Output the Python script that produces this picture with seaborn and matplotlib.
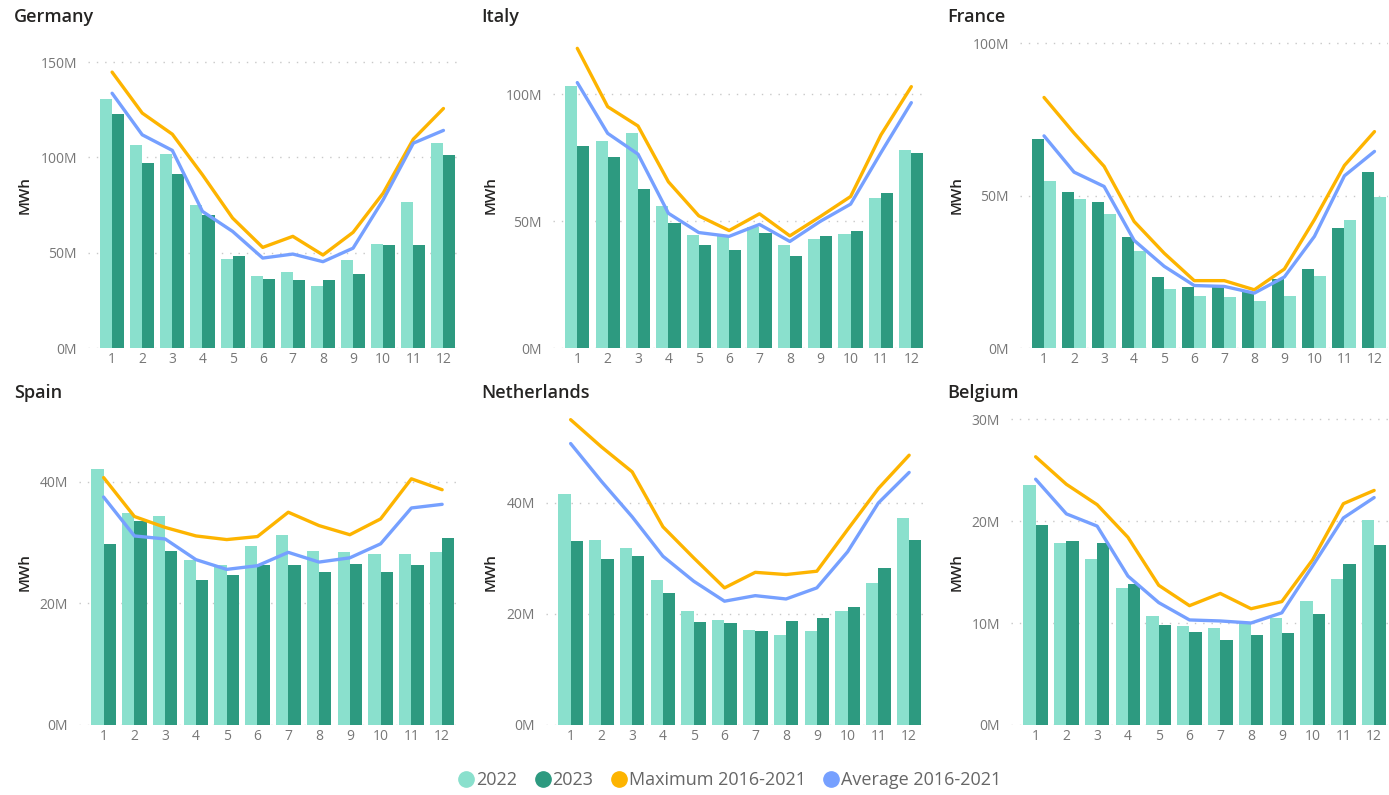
import pandas as pd
import seaborn as sns
import matplotlib.pyplot as plt
import numpy as np
from matplotlib.lines import Line2D

months = list(range(1, 13))

germany_2022 = [130.8, 106.8, 101.9, 75.2, 46.7, 37.6, 39.7, 32.3, 46.0, 54.4, 76.7, 107.5]
germany_2023 = [122.6, 97.0, 91.3, 69.9, 48.1, 36.2, 35.8, 35.8, 39.0, 54.2, 54.2, 101.4]
germany_max = [144.8, 123.3, 112.2, 90.9, 68.2, 52.8, 58.6, 48.8, 60.7, 81.3, 109.6, 125.7]
germany_avg = [133.7, 111.9, 103.7, 71.7, 61.2, 47.2, 49.3, 45.3, 52.4, 77.8, 107.5, 114.2]

italy_2022 = [103.1, 81.4, 84.6, 56.0, 44.6, 44.0, 47.5, 40.4, 42.9, 45.0, 59.3, 78.2]
italy_2023 = [79.8, 75.1, 62.5, 49.1, 40.6, 38.7, 45.4, 36.4, 44.1, 46.1, 61.0, 76.8]
italy_max = [118.1, 95.1, 87.5, 65.5, 52.1, 46.3, 52.9, 44.2, 51.8, 59.7, 84.0, 103.0]
italy_avg = [104.6, 84.6, 76.4, 53.1, 45.5, 44.0, 48.7, 42.0, 49.9, 56.7, 77.0, 96.7]

france_2022 = [54.9, 48.9, 43.9, 31.9, 19.2, 17.2, 16.7, 15.5, 17.2, 23.5, 41.9, 49.6]
france_2023 = [68.6, 51.1, 47.9, 36.4, 23.4, 19.9, 20.0, 18.3, 22.6, 25.9, 39.5, 57.8]
france_max = [82.2, 70.5, 59.6, 41.5, 31.1, 22.1, 22.1, 19.1, 25.9, 42.1, 59.9, 71.0]
france_avg = [69.6, 57.7, 53.0, 35.3, 26.8, 20.5, 20.2, 18.0, 23.3, 36.6, 56.5, 64.5]

spain_2022 = [42.1, 34.9, 34.3, 27.1, 26.3, 29.4, 31.3, 28.7, 28.5, 28.2, 28.2, 28.5]
spain_2023 = [29.8, 33.6, 28.7, 23.9, 24.6, 26.3, 26.4, 25.2, 26.5, 25.2, 26.3, 30.8]
spain_max = [40.7, 34.3, 32.5, 31.1, 30.5, 31.0, 35.0, 32.8, 31.3, 33.9, 40.5, 38.7]
spain_avg = [37.5, 31.1, 30.6, 27.2, 25.6, 26.2, 28.4, 26.8, 27.5, 29.8, 35.7, 36.3]

netherlands_2022 = [41.7, 33.4, 31.8, 26.2, 20.6, 18.9, 17.2, 16.2, 16.9, 20.5, 25.6, 37.2]
netherlands_2023 = [33.1, 29.9, 30.4, 23.8, 18.6, 18.3, 16.9, 18.8, 19.2, 21.2, 28.3, 33.3]
netherlands_max = [55.0, 50.1, 45.6, 35.7, 30.1, 24.7, 27.5, 27.1, 27.7, 35.2, 42.6, 48.6]
netherlands_avg = [50.7, 43.9, 37.5, 30.4, 25.9, 22.3, 23.3, 22.7, 24.7, 31.2, 40.0, 45.5]

belgium_2022 = [23.5, 17.8, 16.3, 13.4, 10.7, 9.7, 9.5, 10.1, 10.5, 12.2, 14.3, 20.1]
belgium_2023 = [19.6, 18.0, 17.8, 13.8, 9.8, 9.1, 8.3, 8.8, 9.0, 10.9, 15.8, 17.6]
belgium_max = [26.3, 23.6, 21.6, 18.4, 13.7, 11.7, 12.9, 11.4, 12.1, 16.2, 21.7, 23.0]
belgium_avg = [24.1, 20.7, 19.5, 14.6, 12.0, 10.3, 10.2, 10.0, 11.0, 15.6, 20.3, 22.3]

countries = ['Germany', 'Italy', 'France', 'Spain', 'Netherlands', 'Belgium']
series = {
    'Germany': (germany_2022, germany_2023, germany_max, germany_avg),
    'Italy': (italy_2022, italy_2023, italy_max, italy_avg),
    'France': (france_2022, france_2023, france_max, france_avg),
    'Spain': (spain_2022, spain_2023, spain_max, spain_avg),
    'Netherlands': (netherlands_2022, netherlands_2023, netherlands_max, netherlands_avg),
    'Belgium': (belgium_2022, belgium_2023, belgium_max, belgium_avg),
}
y_ticks = {'Germany': [0, 50, 100, 150], 'Italy': [0, 50, 100], 'France': [0, 50, 100],
           'Spain': [0, 20, 40], 'Netherlands': [0, 20, 40], 'Belgium': [0, 10, 20, 30]}
y_top = {'Germany': 160.6, 'Italy': 120.6, 'France': 100.4,
         'Spain': 50.5, 'Netherlands': 55.3, 'Belgium': 30.1}

c_2022 = '#8AE0CD'
c_2023 = '#2D9A80'
c_max = '#FDB400'
c_avg = '#76A0FF'
palette = {'2022': c_2022, '2023': c_2023}

sns.set_theme(style='white')
plt.rcParams['font.family'] = ['Open Sans', 'DejaVu Sans']

W, H = 1389, 795
fig = plt.figure(figsize=(W / 100, H / 100), dpi=100)

# pixel boxes: left, bottom(px from top), width, height
boxes = {
    'Germany': (88, 348, 369, 306),
    'Italy': (553, 348, 372, 306),
    'France': (1020, 348, 368, 306),
    'Spain': (79, 725, 377, 307),
    'Netherlands': (546, 725, 377, 307),
    'Belgium': (1011, 725, 377, 307),
}
title_pos = {'Germany': (14, 17), 'Italy': (481, 17), 'France': (947, 17),
             'Spain': (14, 393), 'Netherlands': (481, 393), 'Belgium': (947, 393)}
ylab_pos = {'Germany': (25, 195), 'Italy': (491, 195), 'France': (957, 195),
            'Spain': (25, 572), 'Netherlands': (491, 572), 'Belgium': (957, 572)}

for name in countries:
    s22, s23, smax, savg = series[name]
    df = pd.DataFrame({
        'month': months * 2,
        'value': s22 + s23,
        'year': ['2022'] * 12 + ['2023'] * 12,
    })
    l, b, w, h = boxes[name]
    ax = fig.add_axes([l / W, (H - b) / H, w / W, h / H])
    order = ['2023', '2022'] if name == 'France' else ['2022', '2023']
    sns.barplot(data=df, x='month', y='value', hue='year', hue_order=order,
                palette=palette, native_scale=True, width=0.8, saturation=1,
                edgecolor='none', legend=False, ax=ax)
    sns.lineplot(x=months, y=smax, color=c_max, linewidth=2.4, ax=ax)
    sns.lineplot(x=months, y=savg, color=c_avg, linewidth=2.4, ax=ax)
    ax.set_xlim(0.2, 12.45)
    ax.set_ylim(0, y_top[name])
    ax.set_xticks(months)
    ax.set_xticklabels([str(m) for m in months])
    ax.set_yticks(y_ticks[name])
    ax.set_yticklabels([f'{v}M' for v in y_ticks[name]])
    ax.tick_params(axis='both', length=0, labelsize=10, labelcolor='#777777')
    ax.tick_params(axis='x', pad=3)
    ax.tick_params(axis='y', pad=8)
    ax.set_xlabel('')
    ax.set_ylabel('')
    for sp in ax.spines.values():
        sp.set_visible(False)
    ax.grid(axis='y', color='#c8c8c8', linestyle=(0, (1, 5)), linewidth=1)
    ax.set_axisbelow(True)
    tx, ty = title_pos[name]
    fig.text(tx / W, 1 - ty / H, name, fontsize=13, fontweight='semibold',
             color='#252423', ha='left', va='center')
    yx, yy = ylab_pos[name]
    fig.text(yx / W, 1 - yy / H, 'MWh', fontsize=11, fontweight='semibold',
             color='#252423', rotation=90, ha='center', va='center')

handles = [Line2D([], [], marker='o', linestyle='', markersize=11, color=c)
           for c in [c_2022, c_2023, c_max, c_avg]]
labels = ['2022', '2023', 'Maximum 2016-2021', 'Average 2016-2021']
leg = fig.legend(handles, labels, loc='center', bbox_to_anchor=(0.525, 1 - 780 / H),
                 ncol=4, frameon=False, fontsize=13, handletextpad=0.05,
                 columnspacing=0.9, handlelength=1.0)
for t in leg.get_texts():
    t.set_color('#666666')

fig.savefig('out.png', dpi=100)
